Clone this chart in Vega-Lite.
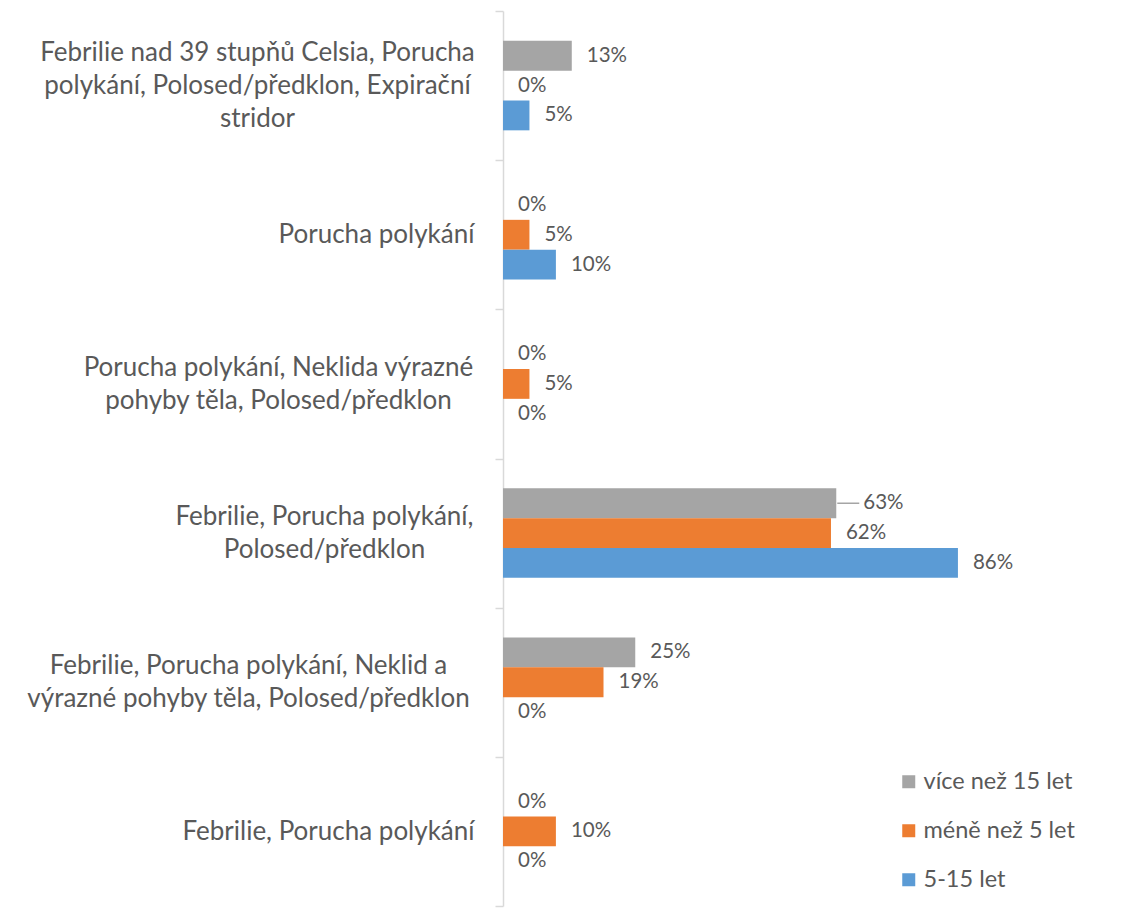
{
  "$schema": "https://vega.github.io/schema/vega-lite/v6.json",
  "width": 529,
  "height": 895,
  "autosize": "none",
  "padding": {"left": 503, "top": 11, "right": 102, "bottom": 17},
  "background": "white",
  "config": {"view": {"stroke": null}, "font": "Lato"},
  "data": {
    "values": [
      {"cat": "A", "series": "více než 15 let", "value": 0.13},
      {"cat": "A", "series": "méně než 5 let", "value": 0},
      {"cat": "A", "series": "5-15 let", "value": 0.05},
      {"cat": "B", "series": "více než 15 let", "value": 0},
      {"cat": "B", "series": "méně než 5 let", "value": 0.05},
      {"cat": "B", "series": "5-15 let", "value": 0.1},
      {"cat": "C", "series": "více než 15 let", "value": 0},
      {"cat": "C", "series": "méně než 5 let", "value": 0.05},
      {"cat": "C", "series": "5-15 let", "value": 0},
      {"cat": "D", "series": "více než 15 let", "value": 0.63},
      {"cat": "D", "series": "méně než 5 let", "value": 0.62},
      {"cat": "D", "series": "5-15 let", "value": 0.86},
      {"cat": "E", "series": "více než 15 let", "value": 0.25},
      {"cat": "E", "series": "méně než 5 let", "value": 0.19},
      {"cat": "E", "series": "5-15 let", "value": 0},
      {"cat": "F", "series": "více než 15 let", "value": 0},
      {"cat": "F", "series": "méně než 5 let", "value": 0.1},
      {"cat": "F", "series": "5-15 let", "value": 0}
    ]
  },
  "encoding": {
    "y": {
      "field": "cat",
      "type": "nominal",
      "sort": ["A", "B", "C", "D", "E", "F"],
      "scale": {"paddingInner": 0, "paddingOuter": 0},
      "axis": {
        "title": null,
        "domainColor": "#D9D9D9",
        "domainWidth": 1.5,
        "tickColor": "#D9D9D9",
        "tickWidth": 1.5,
        "tickSize": 8,
        "tickBand": "extent",
        "labelFont": "Lato",
        "labelFontSize": 26,
        "labelColor": "#595959",
        "labelAlign": "center",
        "labelBaseline": "middle",
        "labelLineHeight": 33,
        "labelLimit": 1000,
        "labelOverlap": false,
        "labelPadding": {
          "condition": [
            {"test": "datum.value == 'A'", "value": 238},
            {"test": "datum.value == 'B'", "value": 119},
            {"test": "datum.value == 'C'", "value": 217},
            {"test": "datum.value == 'D'", "value": 171},
            {"test": "datum.value == 'E'", "value": 247}
          ],
          "value": 167
        },
        "labelOffset": {
          "condition": [
            {"test": "datum.value == 'A'", "value": -33},
            {"test": "datum.value == 'C' || datum.value == 'D' || datum.value == 'E'", "value": -16.5}
          ],
          "value": 0
        },
        "labelExpr": "datum.value == 'A' ? ['Febrilie nad 39 stupňů Celsia, Porucha', 'polykání, Polosed/předklon, Expirační', 'stridor'] : datum.value == 'B' ? 'Porucha polykání' : datum.value == 'C' ? ['Porucha polykání, Neklida výrazné', 'pohyby těla, Polosed/předklon'] : datum.value == 'D' ? ['Febrilie, Porucha polykání,', 'Polosed/předklon'] : datum.value == 'E' ? ['Febrilie, Porucha polykání, Neklid a', 'výrazné pohyby těla, Polosed/předklon'] : datum.value == 'F' ? 'Febrilie, Porucha polykání' : ''"
      }
    },
    "yOffset": {
      "field": "series",
      "type": "nominal",
      "sort": ["více než 15 let", "méně než 5 let", "5-15 let"],
      "scale": {"paddingInner": 0, "paddingOuter": 1.13}
    },
    "x": {
      "field": "value",
      "type": "quantitative",
      "scale": {"domain": [0, 1], "nice": false},
      "axis": null
    }
  },
  "layer": [
    {
      "mark": {"type": "bar"},
      "encoding": {
        "color": {
          "field": "series",
          "type": "nominal",
          "sort": ["více než 15 let", "méně než 5 let", "5-15 let"],
          "scale": {
            "domain": ["více než 15 let", "méně než 5 let", "5-15 let"],
            "range": ["#A5A5A5", "#ED7D31", "#5B9BD5"]
          },
          "legend": {
            "title": null,
            "orient": "none",
            "legendX": 394,
            "legendY": 759,
            "symbolType": "square",
            "symbolSize": 169,
            "symbolStrokeWidth": 0,
            "labelFont": "Lato",
            "labelFontSize": 23.5,
            "labelColor": "#595959",
            "labelOffset": 3,
            "rowPadding": 24
          }
        }
      }
    },
    {
      "transform": [{"filter": "!(datum.cat == 'D' && datum.series == 'více než 15 let')"}],
      "mark": {"type": "text", "align": "left", "baseline": "middle", "dx": 15, "fontSize": 20.5, "font": "Lato", "color": "#595959"},
      "encoding": {"text": {"field": "value", "type": "quantitative", "format": ".0%"}}
    },
    {
      "transform": [{"filter": "datum.cat == 'D' && datum.series == 'více než 15 let'"}],
      "mark": {"type": "text", "align": "left", "baseline": "middle", "dx": 27, "fontSize": 20.5, "font": "Lato", "color": "#595959"},
      "encoding": {"text": {"field": "value", "type": "quantitative", "format": ".0%"}}
    },
    {
      "transform": [{"filter": "datum.cat == 'D' && datum.series == 'více než 15 let'"}],
      "mark": {"type": "rule", "color": "#A5A5A5", "strokeWidth": 1.5, "xOffset": 1, "x2Offset": 23},
      "encoding": {"x2": {"field": "value"}}
    }
  ]
}
